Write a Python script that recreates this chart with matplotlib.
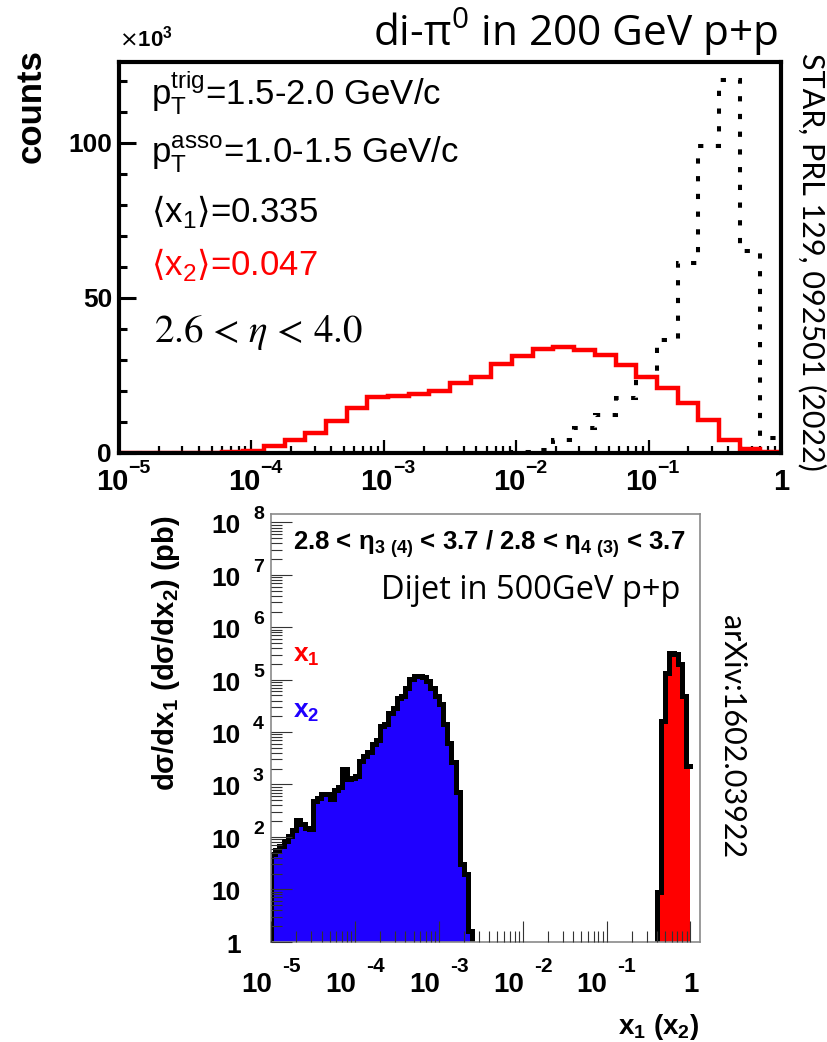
import numpy as np
import matplotlib
matplotlib.use("Agg")
import matplotlib.pyplot as plt
from matplotlib.ticker import MultipleLocator, LogLocator, FuncFormatter, NullFormatter

# ---------------- data ----------------
# di-pi0 in 200 GeV p+p: counts per log bin (32 bins between 1e-5 and 1)
top_edges = np.logspace(-5, 0, 33)
counts_x2 = np.array([0, 0, 0, 0, 0.1, 0.3, 0.5, 2.4, 4.2, 6.6, 10.3, 14.4, 17.9, 18.4, 19.0,
                      20.1, 22.7, 24.4, 28.6, 31.2, 33.5, 34.0, 33.2, 31.5, 28.3, 24.5, 20.8,
                      16.0, 10.6, 4.3, 1.3, 0.2]) * 1000
counts_x1 = np.array([0] * 19 + [0.3, 1.0, 4.3, 8.0, 12.3, 17.6, 24.5, 36.5, 61.2, 98.8,
                                 120.3, 65.0, 4.7]) * 1000

# dijet in 500 GeV p+p: dsigma/dx (pb), 100 log bins between 1e-5 and 1
bot_edges = np.logspace(-5, 0, 101)
x2_first_bin, x1_first_bin = 0, 92
dsig_dx2 = [48, 56, 66, 83, 105, 138, 214, 174, 145, 141, 480, 560, 650, 660, 540, 790,
            910, 1950, 1290, 1350, 1450, 2800, 3550, 4150, 5900, 7100, 13200, 14100,
            23400, 28200, 45700, 49000, 70800, 102000, 117000, 118000, 115000, 95500,
            70800, 49000, 33900, 14100, 6300, 2630, 710, 30, 19.5, 1.6]
dsig_dx1 = [8.7, 16200, 135000, 316000, 309000, 195000, 49000, 2240]

x_decades = list(range(-5, 1))
y_decades_bottom = list(range(0, 9))

W, H = 827, 1042
SANS = "Liberation Sans"
LIGHT = ["Lato", "DejaVu Sans"]
OPEN = ["Open Sans", "DejaVu Sans"]
BOLD = dict(family=SANS, fontweight="bold")

fig = plt.figure(figsize=(W / 100, H / 100), dpi=100)


def rect(l, t, r, b):
    return [l / W, 1 - b / H, (r - l) / W, (b - t) / H]


def ftext(px, py, s, **kw):
    return fig.text(px / W, 1 - py / H, s, **kw)


def xlab(ax, v, s, dx, dy, **kw):
    """Label anchored at data x = v, offset in pixels from the bottom spine."""
    ax.annotate(s, xy=(v, 0), xycoords=("data", "axes fraction"), xytext=(dx, dy),
                textcoords="offset pixels", va="baseline", annotation_clip=False, **kw)


def ylab(ax, v, s, dx, dy, **kw):
    """Label anchored at data y = v, offset in pixels from the left spine."""
    ax.annotate(s, xy=(0, v), xycoords=("axes fraction", "data"), xytext=(dx, dy),
                textcoords="offset pixels", annotation_clip=False, **kw)


# ---------------- top panel ----------------
ax1 = fig.add_axes(rect(119, 62, 781, 453))
ax1.set_xscale("log")
ax1.set_xlim(1e-5, 1)
ax1.set_ylim(0, 126000)

ax1.stairs(counts_x1, top_edges, baseline=0, color="black", lw=2.9,
           linestyle=(0, (1.3, 3.1)), capstyle="butt", zorder=3)
ax1.stairs(counts_x2, top_edges, baseline=0, color="red", lw=3.2,
           joinstyle="miter", zorder=4)

for s in ax1.spines.values():
    s.set_linewidth(3.0)
    s.set_zorder(5)
ax1.yaxis.set_major_locator(MultipleLocator(50000))
ax1.yaxis.set_minor_locator(MultipleLocator(10000))
ax1.yaxis.set_major_formatter(FuncFormatter(lambda v, p: f"{v / 1000:.0f}"))
ax1.xaxis.set_major_locator(LogLocator(base=10, numticks=10))
ax1.xaxis.set_minor_locator(LogLocator(base=10, subs=np.arange(2, 10), numticks=10))
ax1.xaxis.set_minor_formatter(NullFormatter())
ax1.tick_params(axis="both", which="both", direction="in", top=False, right=False)
ax1.tick_params(axis="x", which="both", labelbottom=False)
ax1.tick_params(axis="y", which="major", length=12, width=2.2, pad=5)
ax1.tick_params(axis="y", which="minor", length=6, width=2.2)
ax1.tick_params(axis="x", which="major", length=9.5, width=1.6)
ax1.tick_params(axis="x", which="minor", length=4.8, width=1.6)
for lab in ax1.get_yticklabels():
    lab.set_fontfamily(SANS)
    lab.set_fontweight("bold")
    lab.set_fontsize(19)

for e in x_decades:
    v = 10.0 ** e
    if e == 0:
        xlab(ax1, v, "1", 0, -37, ha="center", fontsize=21, **BOLD)
    else:
        xlab(ax1, v, "10", 9, -37, ha="right", fontsize=21, **BOLD)
        xlab(ax1, v, "\u2212%d" % (-e), 9, -20, ha="left", fontsize=14, **BOLD)

ftext(119, 47, r"$\times$10$^{\mathregular{3}}$", fontsize=16, **BOLD)
ftext(31, 106, "counts", fontsize=25, rotation=90, ha="center", va="center", **BOLD)
ftext(778, 46, r"di-π$^{\mathregular{0}}$ in 200 GeV p+p", family=OPEN, fontsize=30.5,
      ha="right", va="baseline")
ftext(812, 262, "STAR, PRL 129, 092501 (2022)", family=LIGHT, fontsize=22, rotation=-90,
      ha="center", va="center")

ftext(151, 105, r"p$_{\mathregular{T}}^{\mathregular{trig}}$=1.5-2.0 GeV/c", family=SANS,
      fontsize=25, va="baseline")
ftext(151, 163, r"p$_{\mathregular{T}}^{\mathregular{asso}}$=1.0-1.5 GeV/c", family=SANS,
      fontsize=25, va="baseline")
ftext(151, 222, r"$\langle\mathregular{x}_{\mathregular{1}}\rangle$=0.335", family=SANS,
      fontsize=25, va="baseline")
ftext(151, 275, r"$\langle\mathregular{x}_{\mathregular{2}}\rangle$=0.047", family=SANS,
      fontsize=25, va="baseline", color="red")
ftext(154, 342, r"2.6 < $\mathit{\eta}$ < 4.0", family="STIXGeneral", math_fontfamily="stix",
      fontsize=28, va="baseline")

# ---------------- bottom panel ----------------
ax2 = fig.add_axes(rect(271, 514.3, 699.7, 941.7))
ax2.set_xscale("log")
ax2.set_yscale("log")
ax2.set_xlim(1e-5, 10 ** 0.11)
ax2.set_ylim(1, 10 ** 8.156)

e2 = bot_edges[x2_first_bin:x2_first_bin + len(dsig_dx2) + 1]
e1 = bot_edges[x1_first_bin:x1_first_bin + len(dsig_dx1) + 1]
ybase = ax2.get_ylim()[0]

ax2.stairs(dsig_dx2, e2, baseline=ybase, fill=True, color="#1f00ff", lw=0, zorder=1)
ax2.stairs(dsig_dx2, e2, baseline=ybase, fill=False, color="black", lw=3.6, zorder=2)
ax2.stairs(dsig_dx1, e1, baseline=ybase, fill=True, color="red", lw=0, zorder=1)
# x1 outline: rises from the axis at the first edge, no closing drop at x = 1
xs = np.concatenate([[e1[0]], np.repeat(e1, 2)[1:-1]])
ys = np.concatenate([[ybase], np.repeat(dsig_dx1, 2)])
ax2.plot(xs, ys, color="black", lw=3.6, zorder=2, solid_joinstyle="miter")

for s in ax2.spines.values():
    s.set_color("#8a8a8a")
    s.set_linewidth(1.2)
ax2.set_axisbelow(False)
ax2.xaxis.set_major_locator(LogLocator(base=10, numticks=10))
ax2.xaxis.set_minor_locator(LogLocator(base=10, subs=np.arange(2, 10), numticks=10))
ax2.yaxis.set_major_locator(LogLocator(base=10, numticks=20))
ax2.yaxis.set_minor_locator(LogLocator(base=10, subs=np.arange(2, 10), numticks=20))
ax2.tick_params(axis="both", which="both", direction="in", top=False, right=False,
                color="#333333", width=0.8, labelbottom=False, labelleft=False)
ax2.tick_params(axis="both", which="major", length=15)
ax2.tick_params(axis="both", which="minor", length=7.7)

for e in x_decades:
    v = 10.0 ** e
    if e == 0:
        xlab(ax2, v, "1", 0, -50, ha="center", fontsize=20, **BOLD)
    else:
        xlab(ax2, v, "10", 1, -50, ha="right", fontsize=20, **BOLD)
        xlab(ax2, v, "-%d" % (-e), 11, -30, ha="left", fontsize=15, **BOLD)

for e in y_decades_bottom:
    v = 10.0 ** e
    base = "1" if e == 0 else "10"
    ylab(ax2, v, base, -30, -4, ha="right", va="center", fontsize=19, **BOLD)
    if e >= 2:
        ylab(ax2, v, "%d" % e, -18, 3, ha="left", va="baseline", fontsize=14, **BOLD)

ftext(293, 549, r"2.8 < η$_{\mathregular{3\ (4)}}$ < 3.7 / 2.8 < η$_{\mathregular{4\ (3)}}$ < 3.7",
      fontsize=18.5, va="baseline", **BOLD)
ftext(680, 599, "Dijet in 500GeV p+p", family=OPEN, fontsize=23.5, ha="right", va="baseline")
ftext(293, 662, r"x$_{\mathregular{1}}$", fontsize=19, color="red", va="baseline", **BOLD)
ftext(293, 717, r"x$_{\mathregular{2}}$", fontsize=19, color="#1f00ff", va="baseline", **BOLD)
ftext(166, 653, r"dσ/dx$_{\mathregular{1}}$ (dσ/dx$_{\mathregular{2}}$) (pb)",
      fontsize=21, rotation=90, ha="center", va="center", **BOLD)
ftext(699, 1034, r"x$_{\mathregular{1}}$ (x$_{\mathregular{2}}$)", fontsize=20,
      ha="right", va="baseline", **BOLD)
ftext(732, 737, "arXiv:1602.03922", family=LIGHT, fontsize=22, rotation=-90,
      ha="center", va="center")

fig.savefig("out.png", dpi=100)
